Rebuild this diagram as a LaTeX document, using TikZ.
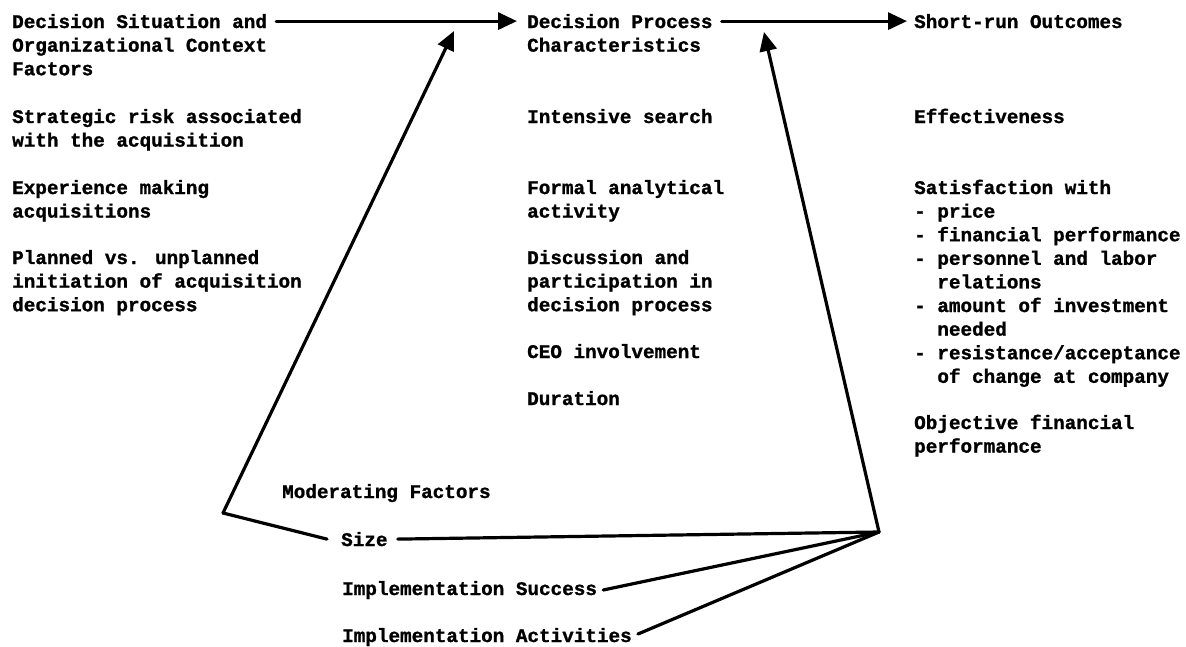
\documentclass[tikz,border=0pt]{standalone}
\usepackage{fontspec}
\setmainfont{Liberation Mono}[BoldFeatures={FakeBold=1.2}]
\usetikzlibrary{arrows.meta}
\begin{document}
\begin{tikzpicture}[x=1pt,y=-1pt,
  txt/.style={anchor=base west, inner sep=0pt, font=\fontsize{19.3}{23.6}\selectfont\bfseries},
  conn/.style={line width=3.2pt, line cap=round, line join=round},
  arr/.style={conn, -{Triangle[length=19pt,width=17pt]}}]
\useasboundingbox (0,0) rectangle (1186,646);
% left column
\node[txt] (l1) at (12,28) {Decision Situation and};
\node[txt] (l2) at (12,51.6) {Organizational Context};
\node[txt] (l3) at (12,75.2) {Factors};
\node[txt] (l4) at (12,123) {Strategic risk associated};
\node[txt] (l5) at (12,146.6) {with the acquisition};
\node[txt] (l6) at (12,194) {Experience making};
\node[txt] (l7) at (12,217.6) {acquisitions};
\node[txt] (l8) at (12,264) {Planned vs. unplanned};
\node[txt] (l9) at (12,287.6) {initiation of acquisition};
\node[txt] (l10) at (12,311.2) {decision process};
% middle column
\node[txt] (m1) at (527,28) {Decision Process};
\node[txt] (m2) at (527,51.6) {Characteristics};
\node[txt] (m3) at (527,123) {Intensive search};
\node[txt] (m4) at (527,194) {Formal analytical};
\node[txt] (m5) at (527,217.6) {activity};
\node[txt] (m6) at (527,264) {Discussion and};
\node[txt] (m7) at (527,287.6) {participation in};
\node[txt] (m8) at (527,311.2) {decision process};
\node[txt] (m9) at (527,358) {CEO involvement};
\node[txt] (m10) at (527,405) {Duration};
% right column
\node[txt] (r1) at (914,28) {Short-run Outcomes};
\node[txt] (r2) at (914,123) {Effectiveness};
\node[txt] (r3) at (914,194) {Satisfaction with};
\node[txt] (r4) at (914,217.6) {- price};
\node[txt] (r5) at (914,241.2) {- financial performance};
\node[txt] (r6) at (914,264.8) {- personnel and labor};
\node[txt] (r7) at (914,288.4) {\ \ relations};
\node[txt] (r8) at (914,312) {- amount of investment};
\node[txt] (r9) at (914,335.6) {\ \ needed};
\node[txt] (r10) at (914,359.2) {- resistance/acceptance};
\node[txt] (r11) at (914,382.8) {\ \ of change at company};
\node[txt] (r12) at (914,429) {Objective financial};
\node[txt] (r13) at (914,452.6) {performance};
% moderating
\node[txt] (mf) at (282,498) {Moderating Factors};
\node[txt] (sz) at (341,546) {Size};
\node[txt] (is) at (342,595) {Implementation Success};
\node[txt] (ia) at (342,642) {Implementation Activities};
% coordinates
\coordinate (corner) at (223,513);
\coordinate (hub) at (879,532);
\coordinate (tipA) at (454,31);
\coordinate (tipB) at (764,32);
% connectors
\draw[arr] ([xshift=9pt]l1.east) -- ([xshift=-10pt]m1.west);
\draw[arr] ([xshift=9pt]m1.east) -- ([xshift=-7pt]r1.west);
\draw[arr] (corner) -- (tipA);
\draw[arr] (hub) -- (tipB);
\draw[conn] ([xshift=-14pt]sz.west) -- (corner);
\draw[conn] ([xshift=10pt]sz.east) -- (hub);
\draw[conn] ([xshift=6pt]is.east) -- (hub);
\draw[conn] ([xshift=6pt,yshift=3pt]ia.east) -- (hub);
\end{tikzpicture}
\end{document}
